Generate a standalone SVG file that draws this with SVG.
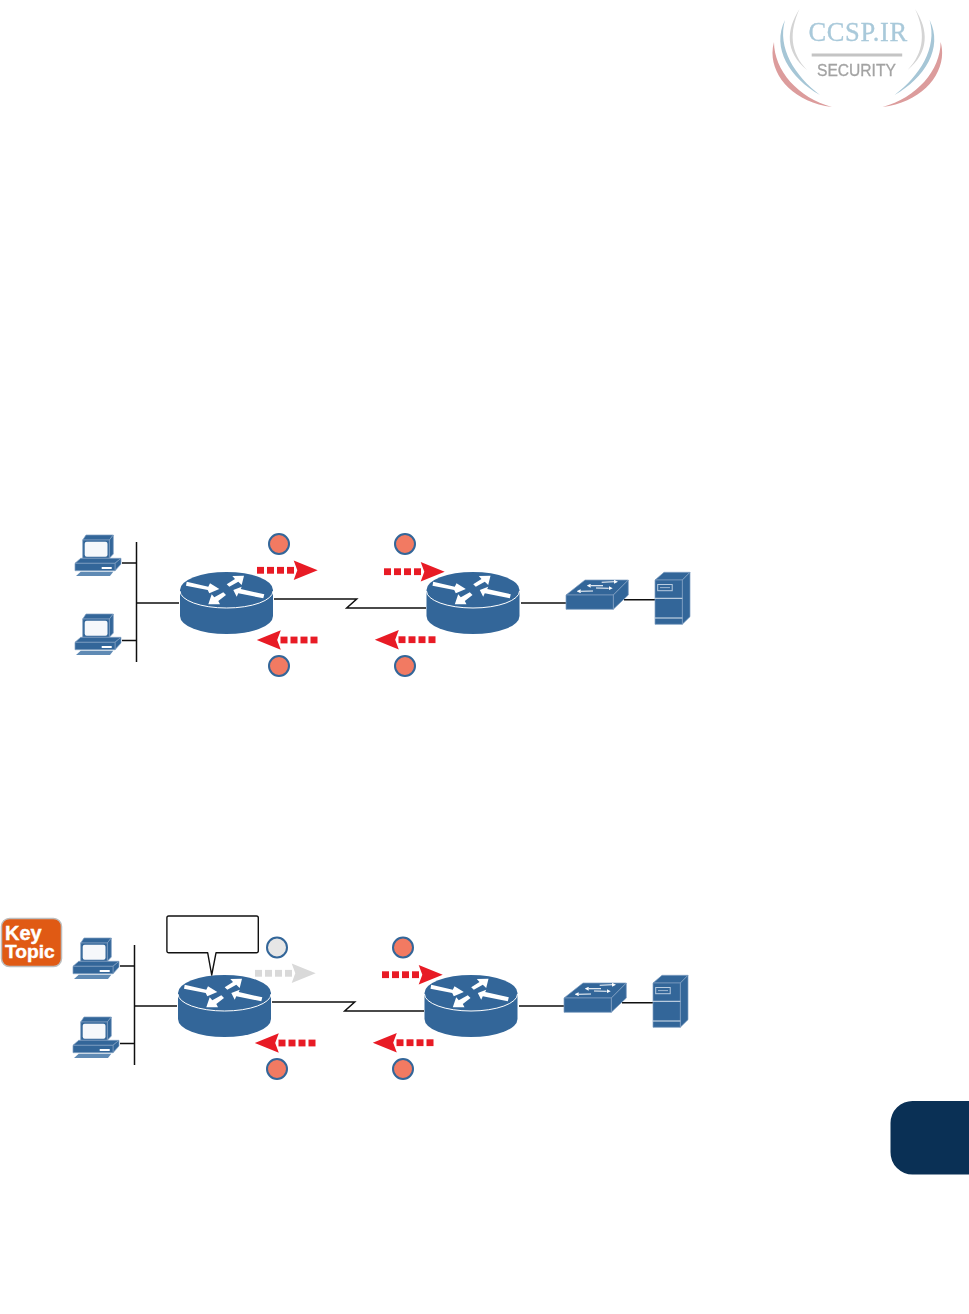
<svg xmlns="http://www.w3.org/2000/svg" width="969" height="1314" viewBox="0 0 969 1314">
<style>
.w{stroke:#0f0f0f;stroke-width:1.5;fill:none}
.b{fill:#336699;stroke:#7f9fc2;stroke-width:.7;stroke-linejoin:round}
.r{fill:#336699}
.c{fill:#f27a62;stroke:#336699;stroke-width:2}
.g{fill:#e6e6e6;stroke:#336699;stroke-width:2}
.wa{fill:#fff}
.ws{stroke:#fff;stroke-width:1.1;fill:none;marker-end:url(#ws)}
.red{fill:#e81b25}
.grey{fill:#d9d9d9}
</style>
<defs>
<filter id="soft" x="-5%" y="-5%" width="110%" height="110%"><feGaussianBlur stdDeviation="0.45"/></filter>
<marker id="ws" viewBox="0 0 4 4" refX="0" refY="2" markerWidth="4" markerHeight="4" markerUnits="userSpaceOnUse" orient="auto"><polygon points="0,0 4,2 0,4" fill="#fff"/></marker>
<g id="pc">
<polygon class="b" points="82.7,540 86,535 113.3,535 109.3,540"/>
<polygon class="b" points="113.3,535 113.3,554 109.3,558.3 109.3,540"/>
<rect class="b" x="82.7" y="540" width="26.6" height="18.3"/>
<rect x="84.7" y="541.7" width="22.8" height="15" rx="2" fill="#f6f8fb"/>
<polygon class="b" points="75,563.3 80.7,558.3 121,558.3 115,563.3"/>
<polygon class="b" points="121,558.3 121,564 115,570.7 115,563.3"/>
<rect class="b" x="75" y="563.3" width="40" height="7.4"/>
<rect x="101.7" y="567" width="10" height="2" fill="#fff"/>
<polygon points="76,576 110,576 113.3,571.7 80.7,571.7" fill="#5f8ab4"/>
</g>
<g id="router">
<path class="r" d="M180 590V616A46.5 18 0 0 0 273 616V590A46.5 18 0 0 0 180 590Z"/>
<path d="M180 591A46.5 17 0 0 0 273 591" fill="none" stroke="#fff" stroke-width="1"/>
<polygon class="wa" points="186.7,581.7 208.3,586.7 210,583.3 219.3,589 209.3,593.3 207.7,590 186,585.7"/>
<polygon class="wa" points="244,575.7 241.7,585 238.3,581.7 229.3,586.7 226.7,584.3 235,579 232.3,576"/>
<polygon class="wa" points="233.3,590 236.7,596.7 238.3,593.3 263.3,598.3 264.3,594.3 240.7,589 241.7,586.7"/>
<polygon class="wa" points="208.3,604.3 211.7,594.3 214.3,597.3 223.3,592.3 226,595 218.3,601 220,604.3"/>
</g>
<g id="switch">
<polygon class="b" points="566,595 585,580 628.3,580 613.3,595"/>
<polygon class="b" points="628.3,580 628.3,595 613.3,609.3 613.3,595"/>
<rect class="b" x="566" y="595" width="47.3" height="14.3"/>
<line class="ws" x1="601.7" y1="582.3" x2="614" y2="581.8"/>
<line class="ws" x1="603" y1="585.7" x2="590.7" y2="585.7"/>
<line class="ws" x1="596" y1="588" x2="608.7" y2="588.2"/>
<line class="ws" x1="593" y1="591" x2="580.7" y2="591.2"/>
</g>
<g id="server">
<polygon class="b" points="655,580 664,572.3 690,572.3 682.3,580"/>
<polygon class="b" points="690,572.3 690,616.7 682.3,624.3 682.3,580"/>
<rect class="b" x="655" y="580" width="27.3" height="44.3"/>
<line x1="655" y1="598.3" x2="682.3" y2="598.3" stroke="#dbe5ef" stroke-width="1"/>
<line x1="655" y1="618" x2="682.3" y2="618" stroke="#dbe5ef" stroke-width="1"/>
<rect x="657.7" y="584.5" width="14.5" height="6.2" fill="none" stroke="#b9cce0" stroke-width="1"/>
<line x1="660" y1="587.6" x2="670" y2="587.6" stroke="#b9cce0" stroke-width=".8"/>
</g>
<g id="flow">
<rect x="0" y="-3.4" width="7" height="6.8"/><rect x="10" y="-3.4" width="7" height="6.8"/><rect x="20" y="-3.4" width="7" height="6.8"/><rect x="30" y="-3.4" width="7" height="6.8"/>
<polygon points="36.7,-9.7 60.7,0 36.7,9.7 40.3,0"/>
</g>
<g id="links">
<path class="w" d="M136.5 542V662"/>
<path class="w" d="M122 563H136.5M137 603H179M122 640.5H136.5"/>
<path class="w" d="M274 599H356.7L346.7 608H426"/>
<path class="w" d="M521 603H566M624 599.7H655"/>
</g>
<g id="sw"><path d="M799.5 9C786 30 785 52 807 70C790 52 789 32 799.5 9Z"/></g>
<g id="sb"><path d="M785 20C771 48 790 78 820 95C795 76 777 48 785 20Z"/></g>
<g id="sr"><path d="M774 42C766 70 790 102 832 107C798 98 774 70 774 42Z"/></g>
</defs>

<g id="watermark">
<g filter="url(#soft)">
<use href="#sw" fill="#d4d4d4"/><use href="#sb" fill="#a6c6d6"/><use href="#sr" fill="#dc9c9c"/>
<g transform="translate(1714.6,0) scale(-1,1)"><use href="#sw" fill="#d4d4d4"/><use href="#sb" fill="#a6c6d6"/><use href="#sr" fill="#dc9c9c"/></g>
<rect x="811.7" y="53.5" width="90.5" height="3" fill="#c4c4c4"/>
<text x="808.5" y="40.7" font-family="'Liberation Serif',serif" font-size="26.5" letter-spacing=".6" fill="#a9c9da" stroke="#a9c9da" stroke-width=".3">CCSP.IR</text>
<text x="817" y="75.7" font-family="'Liberation Sans',sans-serif" font-size="15.6" fill="#a3a3a3" stroke="#a3a3a3" stroke-width=".3">SECURITY</text>
</g>
</g>

<g id="connectors-top"><use href="#links"/></g>
<g id="pc-a1"><use href="#pc"/></g>
<g id="pc-a2"><use href="#pc" transform="translate(0,79)"/></g>
<g id="router-a1"><use href="#router"/></g>
<g id="router-a2"><use href="#router" transform="translate(246.5,0)"/></g>
<g id="switch-a"><use href="#switch"/></g>
<g id="server-a"><use href="#server"/></g>
<g id="flows-top" class="red">
<use href="#flow" transform="translate(257,570.3)"/>
<use href="#flow" transform="translate(384,571.7)"/>
<use href="#flow" transform="translate(317.5,640) scale(-1,1)"/>
<use href="#flow" transform="translate(435.5,639.7) scale(-1,1)"/>
</g>
<g id="badges-top">
<circle class="c" cx="279" cy="544" r="10"/><circle class="c" cx="405" cy="544" r="10"/>
<circle class="c" cx="279" cy="666" r="10"/><circle class="c" cx="405" cy="666" r="10"/>
</g>

<g id="key-topic">
<rect x="1.5" y="918.5" width="60" height="48" rx="8" fill="#e05a14" stroke="#bdbdbd" stroke-width="1.5"/>
<text font-family="'Liberation Sans',sans-serif" font-weight="700" fill="#fff" stroke="#fff" stroke-width=".4"><tspan x="5" y="940" font-size="20">Key</tspan><tspan x="5" y="957.5" font-size="19.2">Topic</tspan></text>
</g>

<g id="connectors-bottom"><use href="#links" transform="translate(-2,403)"/></g>
<g id="pc-b1"><use href="#pc" transform="translate(-2,403)"/></g>
<g id="pc-b2"><use href="#pc" transform="translate(-2,482)"/></g>
<g id="router-b1"><use href="#router" transform="translate(-2,403)"/></g>
<g id="router-b2"><use href="#router" transform="translate(244.5,403)"/></g>
<g id="switch-b"><use href="#switch" transform="translate(-2,403)"/></g>
<g id="server-b"><use href="#server" transform="translate(-2,403)"/></g>
<g id="callout">
<path d="M168.7 916H256.5A1.8 1.8 0 0 1 258.3 917.8V951A1.8 1.8 0 0 1 256.5 952.8H216L211.7 975L207.7 952.8H168.7A1.8 1.8 0 0 1 166.9 951V917.8A1.8 1.8 0 0 1 168.7 916Z" fill="#fff" stroke="#111" stroke-width="1.4" stroke-linejoin="round"/>
</g>
<g id="flows-bottom">
<use href="#flow" class="grey" transform="translate(255,973.3)"/>
<use href="#flow" class="red" transform="translate(382,974.7)"/>
<use href="#flow" class="red" transform="translate(315.5,1043) scale(-1,1)"/>
<use href="#flow" class="red" transform="translate(433.5,1042.7) scale(-1,1)"/>
</g>
<g id="badges-bottom">
<circle class="g" cx="277" cy="947.5" r="10"/><circle class="c" cx="403" cy="947.5" r="10"/>
<circle class="c" cx="277" cy="1069" r="10"/><circle class="c" cx="403" cy="1069" r="10"/>
</g>
<g id="chapter-tab"><path d="M969 1101H913A22 22 0 0 0 890.5 1123V1152A22 22 0 0 0 913 1174.5H969Z" fill="#0a3055"/></g>
</svg>
